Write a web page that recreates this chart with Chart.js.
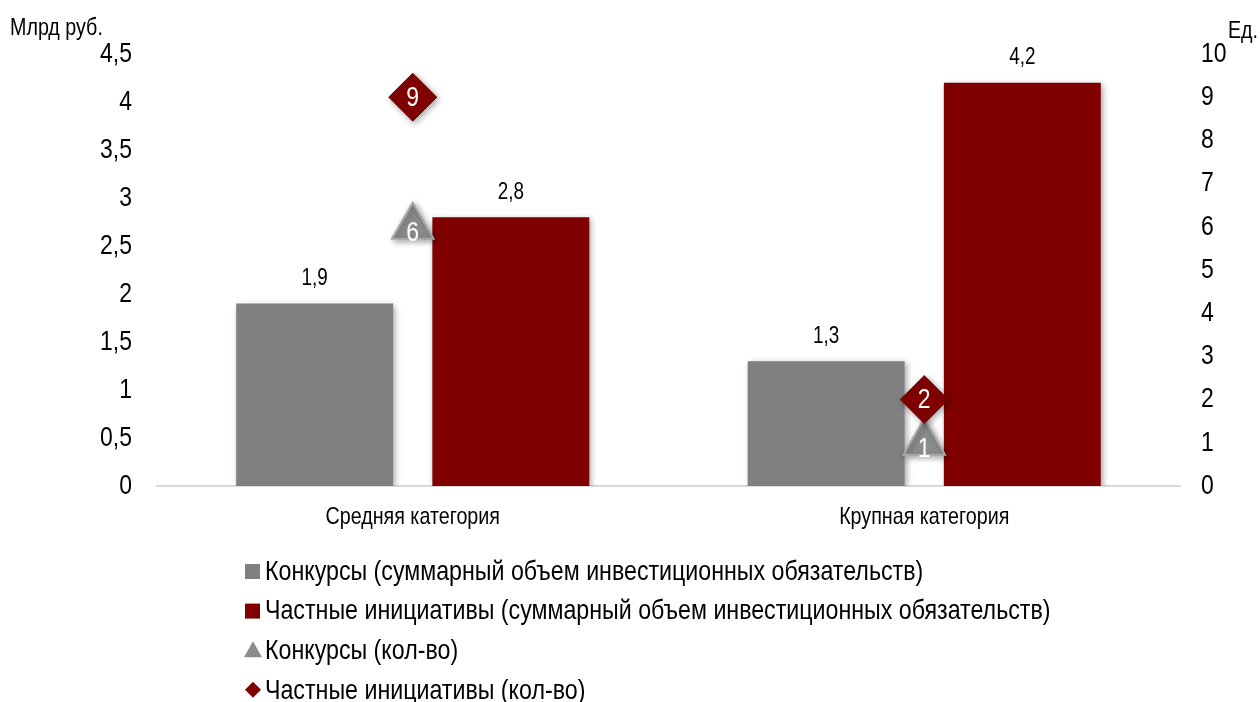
<!DOCTYPE html>
<html>
<head>
<meta charset="utf-8">
<script src="https://cdn.jsdelivr.net/npm/chart.js@4.4.1/dist/chart.umd.min.js"></script>
<style>
  html, body { margin: 0; padding: 0; background: #fff; }
  #wrap { width: 1260px; height: 702px; }
</style>
</head>
<body>
<div id="wrap"><canvas id="myChart" width="1260" height="702"></canvas></div>
<script>
const categories = ['Средняя категория', 'Крупная категория'];
const konkursySum = [1.9, 1.3];
const chastnyeSum = [2.8, 4.2];
const konkursyCount = [6, 1];
const chastnyeCount = [9, 2];
const leftTicks = [0, 0.5, 1, 1.5, 2, 2.5, 3, 3.5, 4, 4.5];
const rightTicks = [0, 1, 2, 3, 4, 5, 6, 7, 8, 9, 10];
const legendLabels = [
    'Конкурсы (суммарный объем инвестиционных обязательств)',
    'Частные инициативы (суммарный объем инвестиционных обязательств)',
    'Конкурсы (кол-во)',
    'Частные инициативы (кол-во)'
];

const FONT = "'Liberation Sans', Arial, sans-serif";
const NARROW = 0.82; // имитация Arial Narrow
const GRAY = '#808080';
const RED = '#800000';

const fmt = (v) => String(v).replace('.', ',');

// текст со сжатием по горизонтали
function narrowText(ctx, txt, x, y, size, align, color) {
    ctx.save();
    ctx.translate(x, y);
    ctx.scale(NARROW, 1);
    ctx.font = size + 'px ' + FONT;
    ctx.textAlign = align;
    ctx.textBaseline = 'middle';
    ctx.fillStyle = color || '#000';
    ctx.fillText(txt, 0, 0);
    ctx.restore();
}

const shadowPlugin = {
    id: 'shadow',
    beforeDatasetsDraw(chart) {
        const ctx = chart.ctx;
        ctx.save();
        ctx.shadowColor = 'rgba(0,0,0,0.35)';
        ctx.shadowBlur = 6;
        ctx.shadowOffsetX = 2;
        ctx.shadowOffsetY = 2;
    },
    afterDatasetsDraw(chart) {
        chart.ctx.restore();
    }
};

const labelsPlugin = {
    id: 'labels',
    afterDatasetsDraw(chart) {
        const ctx = chart.ctx;
        chart.data.datasets.forEach((ds, i) => {
            const meta = chart.getDatasetMeta(i);
            meta.data.forEach((el, j) => {
                if (ds.type === 'bar') {
                    narrowText(ctx, fmt(ds.data[j]), el.x, el.y - 25, 23, 'center', '#000');
                } else {
                    const dy = ds.pointStyle === 'triangle' ? 6 : 1;
                    narrowText(ctx, fmt(ds.data[j]), el.x, el.y + dy, 28, 'center', '#fff');
                }
            });
        });
    },
    afterDraw(chart) {
        const ctx = chart.ctx;
        const sy = chart.scales.y, sy2 = chart.scales.y2, sx = chart.scales.x;

        leftTicks.forEach(v => narrowText(ctx, fmt(v), sy.right - 25, sy.getPixelForValue(v), 28, 'right'));
        rightTicks.forEach(v => narrowText(ctx, String(v), sy2.left + 21, sy2.getPixelForValue(v), 28, 'left'));
        categories.forEach((c, i) => narrowText(ctx, c, sx.getPixelForValue(i), sx.top + 31, 24, 'center'));

        narrowText(ctx, 'Млрд руб.', 10, 28, 24, 'left');
        narrowText(ctx, 'Ед.', 1258, 31, 24, 'right');

        // легенда
        const x0 = 245, y0 = 571, step = 39.6;
        const cols = [GRAY, RED, '#8c8c8c', RED];
        ctx.save();
        legendLabels.forEach((txt, i) => {
            const y = y0 + i * step;
            ctx.fillStyle = cols[i];
            ctx.beginPath();
            if (i < 2) {
                ctx.rect(x0, y - 7, 15, 15);
            } else if (i === 2) {
                ctx.moveTo(x0 + 8, y - 9);
                ctx.lineTo(x0 + 17, y + 7);
                ctx.lineTo(x0 - 1, y + 7);
                ctx.closePath();
            } else {
                ctx.moveTo(x0 + 8, y - 8);
                ctx.lineTo(x0 + 16, y);
                ctx.lineTo(x0 + 8, y + 8);
                ctx.lineTo(x0, y);
                ctx.closePath();
            }
            ctx.fill();
            narrowText(ctx, txt, x0 + 20, y + 1, 28.3, 'left');
        });
        ctx.restore();
    }
};

const ctx = document.getElementById('myChart').getContext('2d');
new Chart(ctx, {
    data: {
        labels: categories,
        datasets: [
            {
                type: 'bar',
                label: legendLabels[0],
                data: konkursySum,
                backgroundColor: GRAY,
                yAxisID: 'y',
                order: 3,
                categoryPercentage: 0.767,
                barPercentage: 0.8
            },
            {
                type: 'bar',
                label: legendLabels[1],
                data: chastnyeSum,
                backgroundColor: RED,
                yAxisID: 'y',
                order: 4,
                categoryPercentage: 0.767,
                barPercentage: 0.8
            },
            {
                type: 'line',
                label: legendLabels[2],
                data: konkursyCount,
                yAxisID: 'y2',
                showLine: false,
                pointStyle: 'triangle',
                pointRadius: 24,
                pointHoverRadius: 24,
                pointBackgroundColor: '#8c8c8c',
                pointBorderColor: '#a6a6a6',
                pointBorderWidth: 2,
                order: 2
            },
            {
                type: 'line',
                label: legendLabels[3],
                data: chastnyeCount,
                yAxisID: 'y2',
                showLine: false,
                pointStyle: 'rectRot',
                pointRadius: 24,
                pointHoverRadius: 24,
                pointBackgroundColor: RED,
                pointBorderColor: RED,
                pointBorderWidth: 1,
                order: 1
            }
        ]
    },
    options: {
        responsive: false,
        animation: false,
        layout: { padding: { top: 54, bottom: 0, left: 0, right: 0 } },
        plugins: {
            legend: { display: false },
            tooltip: { enabled: false }
        },
        scales: {
            x: {
                grid: { display: false },
                border: { display: true, color: '#d9d9d9', width: 2 },
                ticks: { display: false },
                afterFit(scale) { scale.height = 216; }
            },
            y: {
                position: 'left',
                min: 0,
                max: 4.5,
                grid: { display: false },
                border: { display: false },
                ticks: { display: false, stepSize: 0.5 },
                afterFit(scale) { scale.width = 157; }
            },
            y2: {
                position: 'right',
                min: 0,
                max: 10,
                grid: { display: false },
                border: { display: false },
                ticks: { display: false, stepSize: 1 },
                afterFit(scale) { scale.width = 80; }
            }
        }
    },
    plugins: [shadowPlugin, labelsPlugin]
});
</script>
</body>
</html>
